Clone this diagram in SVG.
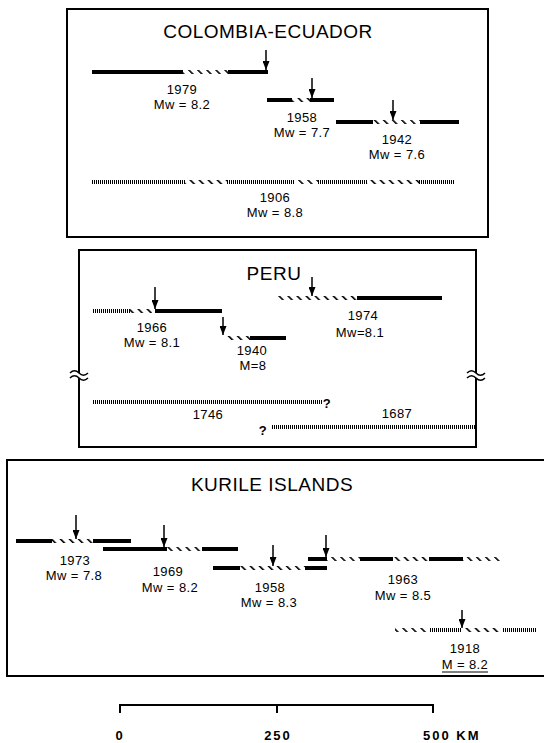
<svg xmlns="http://www.w3.org/2000/svg" width="544" height="743" viewBox="0 0 544 743">
<style>
.box{fill:none;stroke:#000;stroke-width:2}
.solid{stroke:#000;stroke-width:4;fill:none}
.dot{stroke:#000;stroke-width:4;fill:none;stroke-dasharray:1 1}
.hatch{fill:url(#hatch)}
.arrow{stroke:#000;stroke-width:1.5;fill:none;marker-end:url(#ah)}
.title{font-family:"Liberation Sans",Arial,sans-serif;font-size:19px;letter-spacing:0.5px;text-anchor:middle;fill:#000}
.lbl{font-family:"Liberation Sans",Arial,sans-serif;font-size:13px;letter-spacing:0.4px;text-anchor:middle;fill:#000}
.scl{font-family:"Liberation Sans",Arial,sans-serif;font-size:13px;font-weight:bold;letter-spacing:2px;fill:#000}
.brk{fill:none;stroke:#000;stroke-width:1.5}
</style>
<defs>
<pattern id="hatch" patternUnits="userSpaceOnUse" width="6.4" height="6.4" patternTransform="rotate(-45)">
<rect x="0" y="0" width="1.6" height="6.4" fill="#000"/>
</pattern>
<marker id="ah" viewBox="0 0 9 7" refX="9" refY="3.5" markerWidth="9" markerHeight="7" markerUnits="userSpaceOnUse" orient="auto">
<path d="M0 0L9 3.5L0 7z" fill="#000"/>
</marker>
</defs>
<rect width="544" height="743" fill="#fff"/>

<g id="box-colombia">
<rect class="box" x="67" y="9" width="421" height="228"/>
<text class="title" x="268" y="38">COLOMBIA-ECUADOR</text>
</g>
<g id="eq-1979">
<path class="solid" d="M92 72H183M228 72H268"/>
<rect class="hatch" x="183" y="70" width="45" height="4"/>
<path class="arrow" d="M266 50V70"/>
<text class="lbl" x="182" y="94">1979</text>
<text class="lbl" x="182" y="109">Mw = 8.2</text>
</g>
<g id="eq-1958a">
<path class="solid" d="M267 100H292M310 100H334"/>
<rect class="hatch" x="292" y="98" width="18" height="4"/>
<path class="arrow" d="M312 78V98"/>
<text class="lbl" x="302" y="122">1958</text>
<text class="lbl" x="302" y="137">Mw = 7.7</text>
</g>
<g id="eq-1942">
<path class="solid" d="M336 122H373M420 122H459"/>
<rect class="hatch" x="373" y="120" width="47" height="4"/>
<path class="arrow" d="M393 100V120"/>
<text class="lbl" x="397" y="144">1942</text>
<text class="lbl" x="397" y="159">Mw = 7.6</text>
</g>
<g id="eq-1906">
<path class="dot" d="M92 182H185M227 182H295M318 182H367M419 182H455"/>
<rect class="hatch" x="185" y="180" width="42" height="4"/>
<rect class="hatch" x="295" y="180" width="23" height="4"/>
<rect class="hatch" x="367" y="180" width="52" height="4"/>
<text class="lbl" x="275" y="202">1906</text>
<text class="lbl" x="275" y="217">Mw = 8.8</text>
</g>

<g id="box-peru">
<path class="box" d="M79 373V250H476V373M476 378V447H79V378"/>
<path class="brk" d="M70 373c3-3 6-3 9 0s6 3 9 0M70 378c3-3 6-3 9 0s6 3 9 0"/>
<path class="brk" d="M467 373c3-3 6-3 9 0s6 3 9 0M467 378c3-3 6-3 9 0s6 3 9 0"/>
<text class="title" x="274" y="280">PERU</text>
</g>
<g id="eq-1966">
<path class="dot" d="M93 311H130"/>
<rect class="hatch" x="130" y="309" width="22" height="4"/>
<path class="solid" d="M155 311H222"/>
<path class="arrow" d="M155 287V309"/>
<text class="lbl" x="152" y="332">1966</text>
<text class="lbl" x="152" y="347">Mw = 8.1</text>
</g>
<g id="eq-1940">
<rect class="hatch" x="225" y="336" width="25" height="4"/>
<path class="solid" d="M250 338H286"/>
<path class="arrow" d="M223 317V335"/>
<text class="lbl" x="252" y="355">1940</text>
<text class="lbl" x="253" y="370">M=8</text>
</g>
<g id="eq-1974">
<rect class="hatch" x="278" y="296" width="79" height="4"/>
<path class="solid" d="M357 298H442"/>
<path class="arrow" d="M312 277V296"/>
<text class="lbl" x="363" y="320">1974</text>
<text class="lbl" x="360" y="337">Mw=8.1</text>
</g>
<g id="eq-1746">
<path class="dot" d="M93 402H322"/>
<text class="lbl" x="327" y="408" font-weight="bold">?</text>
<text class="lbl" x="208" y="419">1746</text>
</g>
<g id="eq-1687">
<text class="lbl" x="263" y="435" font-weight="bold">?</text>
<path class="dot" d="M272 427H475"/>
<text class="lbl" x="397" y="418">1687</text>
</g>

<g id="box-kurile">
<path class="box" d="M546 460H7V676H546"/>
<text class="title" x="272" y="491">KURILE ISLANDS</text>
</g>
<g id="eq-1973">
<path class="solid" d="M16 541H52M93 541H131"/>
<rect class="hatch" x="52" y="539" width="41" height="4"/>
<path class="arrow" d="M76 515V539"/>
<text class="lbl" x="75" y="565">1973</text>
<text class="lbl" x="74" y="580">Mw = 7.8</text>
</g>
<g id="eq-1969">
<path class="solid" d="M103 549H167M202 549H238"/>
<rect class="hatch" x="167" y="547" width="35" height="4"/>
<path class="arrow" d="M164 525V547"/>
<text class="lbl" x="168" y="576">1969</text>
<text class="lbl" x="170" y="592">Mw = 8.2</text>
</g>
<g id="eq-1958b">
<path class="solid" d="M213 568H240M305 568H327"/>
<rect class="hatch" x="240" y="566" width="65" height="4"/>
<path class="arrow" d="M273 545V566"/>
<text class="lbl" x="270" y="592">1958</text>
<text class="lbl" x="269" y="607">Mw = 8.3</text>
</g>
<g id="eq-1963">
<path class="solid" d="M308 559H327M360 559H393M429 559H463"/>
<rect class="hatch" x="327" y="557" width="33" height="4"/>
<rect class="hatch" x="393" y="557" width="36" height="4"/>
<rect class="hatch" x="463" y="557" width="37" height="4"/>
<path class="arrow" d="M326 535V557"/>
<text class="lbl" x="403" y="584">1963</text>
<text class="lbl" x="403" y="600">Mw = 8.5</text>
</g>
<g id="eq-1918">
<rect class="hatch" x="395" y="628" width="33" height="4"/>
<path class="dot" d="M430 630H461M503 630H537"/>
<rect class="hatch" x="463" y="628" width="37" height="4"/>
<path class="arrow" d="M462 610V628"/>
<text class="lbl" x="465" y="653">1918</text>
<text class="lbl" x="465" y="669">M = 8.2</text>
<path d="M442 672H488" stroke="#000" stroke-width="1"/>
</g>

<g id="scale">
<path d="M120 713V705H433V713M277 705V713" fill="none" stroke="#000" stroke-width="2"/>
<text class="scl" x="120" y="740" text-anchor="middle">0</text>
<text class="scl" x="278" y="740" text-anchor="middle">250</text>
<text class="scl" x="423" y="740">500 KM</text>
</g>
</svg>
